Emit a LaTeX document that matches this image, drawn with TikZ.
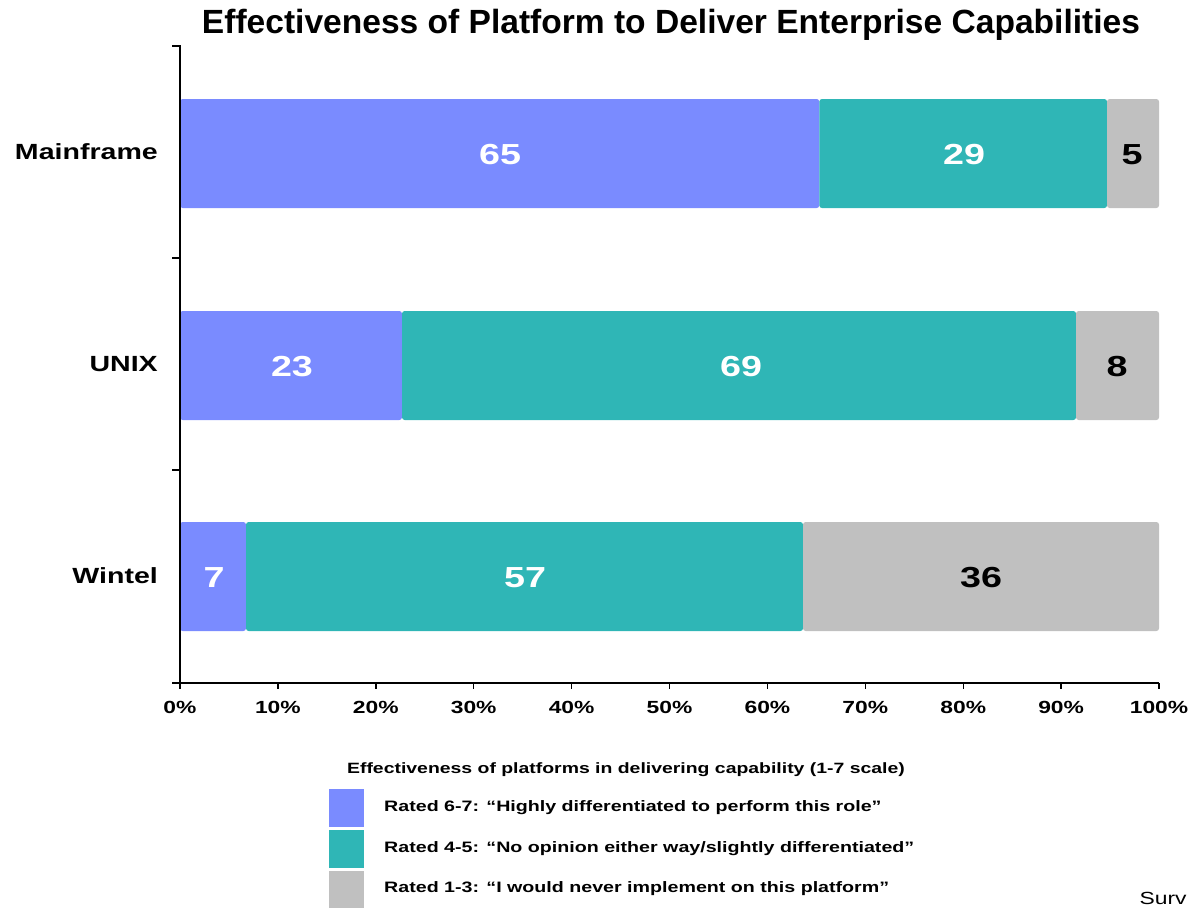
\documentclass[tikz,border=0pt]{standalone}
\usepackage{fontspec}
\setmainfont{Liberation Sans}
\newfontfamily\chartfont[FakeStretch=1.3]{Liberation Sans}
\usepackage{tikz}
\usetikzlibrary{positioning}
\definecolor{rtblue}{RGB}{122,139,255}
\definecolor{rtteal}{RGB}{47,182,182}
\definecolor{rtgray}{RGB}{192,192,192}

\begin{document}
\begin{tikzpicture}[x=0.02cm, y=-0.02cm,
    segment/.style={rounded corners=1.5pt, draw=none},
    value/.style={font=\chartfont\fontsize{16.5}{20}\selectfont\bfseries},
    category/.style={anchor=east, font=\chartfont\fontsize{12.5}{15}\selectfont\bfseries},
    ticklabel/.style={font=\chartfont\fontsize{10}{12}\selectfont\bfseries},
    legendtext/.style={anchor=west, font=\chartfont\fontsize{8.6}{10}\selectfont\bfseries}]

\useasboundingbox (0,0) rectangle (1189,907);

% Title
\node[font=\fontsize{19.1}{22}\selectfont\bfseries] (title) at (671,25) {Effectiveness of Platform to Deliver Enterprise Capabilities};

% Bars
\fill[segment, rtblue] (180,99) rectangle (819.3,208);
\fill[segment, rtteal] (819.3,99) rectangle (1107,208);
\fill[segment, rtgray] (1107,99) rectangle (1159,208);

\fill[segment, rtblue] (180,311) rectangle (402,420);
\fill[segment, rtteal] (402,311) rectangle (1076,420);
\fill[segment, rtgray] (1076,311) rectangle (1159,420);

\fill[segment, rtblue] (180,522) rectangle (246,631);
\fill[segment, rtteal] (246,522) rectangle (803,631);
\fill[segment, rtgray] (803,522) rectangle (1159,631);

% Values
\node[value, white] (mf1) at (500,155) {65};
\node[value, white] (mf2) at (964,155) {29};
\node[value] (mf3) at (1132,155) {5};
\node[value, white] (ux1) at (292,367) {23};
\node[value, white] (ux2) at (741,367) {69};
\node[value] (ux3) at (1117,367) {8};
\node[value, white] (wt1) at (214,578) {7};
\node[value, white] (wt2) at (525,578) {57};
\node[value] (wt3) at (981,578) {36};

% Categories
\node[category] (mainframe) at (164,152) {Mainframe};
\node[category] (unix) at (164,364) {UNIX};
\node[category] (wintel) at (164,576) {Wintel};

% Axes
\draw[line width=0.8pt] (172,46) -- (180,46) -- (180,683);
\draw[line width=0.8pt] (172,258) -- (180,258);
\draw[line width=0.8pt] (172,470) -- (180,470);
\draw[line width=0.8pt] (172,683) -- (1159,683);
\foreach \i in {0,...,10}
  \draw[line width=0.8pt] (180+97.9*\i,683) -- (180+97.9*\i,689)
    node[ticklabel, below=3pt] (tick\i) {\pgfmathparse{int(10*\i)}\pgfmathresult\%};

% Legend
\node[font=\chartfont\fontsize{8.5}{10}\selectfont\bfseries] (legtitle) at (626,770) {Effectiveness of platforms in delivering capability (1-7 scale)};
\fill[rtblue] (329,789) rectangle (364,827);
\fill[rtteal] (329,830) rectangle (364,868);
\fill[rtgray] (329,871) rectangle (364,909);
\node[legendtext] (leg1) at (378,808) {Rated 6-7: “Highly differentiated to perform this role”};
\node[legendtext] (leg2) at (378,849) {Rated 4-5: “No opinion either way/slightly differentiated”};
\node[legendtext] (leg3) at (378,889) {Rated 1-3: “I would never implement on this platform”};

% Source note at the edge
\node[anchor=base east, inner sep=0pt, font=\chartfont\fontsize{10}{12}\selectfont] (source) at (1187,904) {Surv};
\end{tikzpicture}
\end{document}
